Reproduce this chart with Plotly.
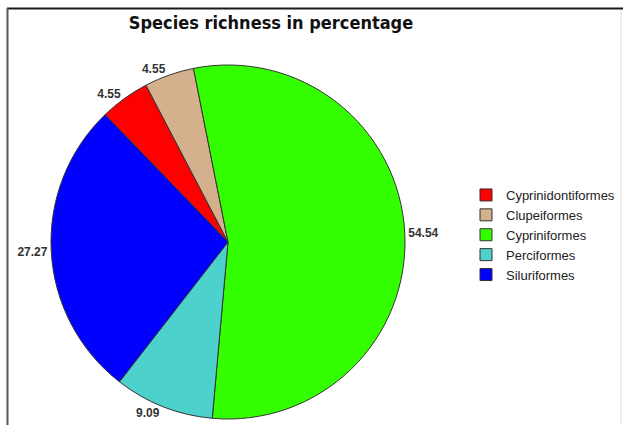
import plotly.graph_objects as go

W, H = 623, 425

orders = ["Cyprinidontiformes", "Clupeiformes", "Cypriniformes", "Perciformes", "Siluriformes"]
richness = [4.55, 4.55, 54.54, 9.09, 27.27]
slice_colors = ["#ff0000", "#d5b08c", "#33ff00", "#4cd1cc", "#0000ff"]

cx, cy, r = 228, 242, 177

fig = go.Figure(go.Pie(
    labels=orders,
    values=richness,
    sort=False,
    direction="clockwise",
    rotation=-44,
    marker=dict(colors=slice_colors, line=dict(color="#333333", width=1)),
    texttemplate="%{value:.2f}",
    textposition="outside",
    textfont=dict(family="Liberation Sans", size=12, color="#333333", weight="bold"),
    domain=dict(x=[(cx - r) / W, (cx + r) / W], y=[(H - cy - r) / H, (H - cy + r) / H]),
    hoverinfo="label+value",
))

fig.update_layout(
    width=W, height=H,
    margin=dict(l=0, r=0, t=0, b=0),
    paper_bgcolor="white",
    plot_bgcolor="white",
    title=dict(
        text="<b>Species richness in percentage</b>",
        font=dict(family="DejaVu Sans Condensed, DejaVu Sans, sans-serif", size=18, color="#111111"),
        x=271 / W, xanchor="center",
        y=1 - 23 / H, yanchor="middle",
    ),
    showlegend=True,
    legend=dict(
        x=466 / W, xanchor="left",
        y=1 - 180 / H, yanchor="top",
        font=dict(family="Liberation Sans", size=13, color="#222222"),
        itemwidth=30,
        tracegroupgap=0,
        bgcolor="rgba(0,0,0,0)",
    ),
    shapes=[
        dict(type="line", xref="paper", yref="paper", x0=7 / W, x1=1, y0=1 - 8.5 / H, y1=1 - 8.5 / H,
             line=dict(color="#1a1a1a", width=2)),
        dict(type="line", xref="paper", yref="paper", x0=7.5 / W, x1=7.5 / W, y0=0, y1=1 - 8 / H,
             line=dict(color="#555555", width=2)),
        dict(type="line", xref="paper", yref="paper", x0=621 / W, x1=621 / W, y0=0, y1=1 - 10 / H,
             line=dict(color="#dddddd", width=1)),
    ],
)

fig.write_html("out.html")
